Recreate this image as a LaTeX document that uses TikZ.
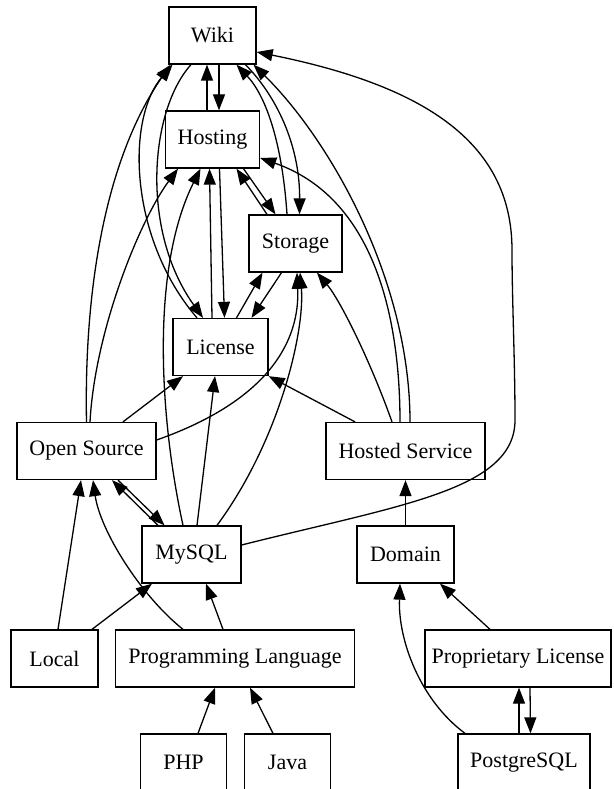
\documentclass[tikz,border=0pt]{standalone}
\usepackage{fontspec}
\setmainfont{Liberation Serif}
\usetikzlibrary{arrows.meta}
\begin{document}
\begin{tikzpicture}[x=1pt,y=-1pt,
  box/.style={draw, line width=1.3pt, minimum height=57pt, inner sep=0pt, font=\fontsize{22}{26}\selectfont},
  edge/.style={line width=1.3pt, -{Triangle[length=16pt,width=12pt]}}]
\useasboundingbox (0,0) rectangle (613,789);
% nodes
\node[box, minimum width=87pt] (Wiki) at (212.5,35.5) {Wiki};
\node[box, minimum width=94pt] (Hosting) at (212.5,139.5) {Hosting};
\node[box, minimum width=93pt] (Storage) at (295.5,243.5) {Storage};
\node[box, minimum width=95pt] (License) at (220.5,347) {License};
\node[box, minimum width=139pt] (OpenSource) at (86.5,451) {Open Source};
\node[box, minimum width=159pt] (HostedService) at (405.5,451) {Hosted Service};
\node[box, minimum width=99pt] (MySQL) at (191.5,554.5) {MySQL};
\node[box, minimum width=97pt] (Domain) at (405.5,554.5) {Domain};
\node[box, minimum width=87pt] (Local) at (54.5,658.5) {Local};
\node[box, minimum width=239pt] (ProgLang) at (235,658.5) {Programming Language};
\node[box, minimum width=186pt] (PropLic) at (518,658.5) {Proprietary License};
\node[box, minimum width=86pt] (PHP) at (183.5,762.5) {PHP};
\node[box, minimum width=86pt] (Java) at (287.5,762.5) {Java};
\node[box, minimum width=132pt] (PostgreSQL) at (524,762.5) {PostgreSQL};
% edges
\draw[edge] ([xshift=-5.5pt]Hosting.north) -- ([xshift=-5.5pt]Wiki.south);
\draw[edge] ([xshift=6.5pt]Wiki.south) -- ([xshift=6.5pt]Hosting.north);
\draw[edge] ([xshift=-21.5pt]Wiki.south) .. controls (150,110) and (140,230) .. ([xshift=-17.5pt]License.north);
\draw[edge] ([xshift=-23.5pt]License.north) .. controls (130,240) and (125,120) .. ([xshift=-40pt]Wiki.south);
\draw[edge] (OpenSource.north) .. controls (84,290) and (105,160) .. ([xshift=-42pt]Wiki.south);
\draw[edge] ([xshift=3.5pt]OpenSource.north) .. controls (95,330) and (140,220) .. ([xshift=-34.5pt]Hosting.south);
\draw[edge] ([xshift=36.5pt]OpenSource.north) -- ([xshift=-37.5pt]License.south);
\draw[edge] ([yshift=11pt]OpenSource.east) .. controls (270,400) and (300,340) .. ([xshift=1.5pt]Storage.south);
\draw[edge] ([xshift=-33.5pt]MySQL.north) -- ([xshift=25.5pt]OpenSource.south);
\draw[edge] ([xshift=31.5pt]OpenSource.south) -- ([xshift=-27pt]MySQL.north);
\draw[edge] ([xshift=3.5pt]Local.north) -- ([xshift=-5.5pt]OpenSource.south);
\draw[edge] ([xshift=-52pt]ProgLang.north) .. controls (140,595) and (100,530) .. ([xshift=6.5pt]OpenSource.south);
\draw[edge] ([xshift=37.5pt]Local.north) -- ([xshift=-39.5pt]MySQL.south);
\draw[edge] ([xshift=-12pt]ProgLang.north) -- ([xshift=14.5pt]MySQL.south);
\draw[edge] ([xshift=14.5pt]PHP.north) -- ([xshift=-20pt]ProgLang.south);
\draw[edge] ([xshift=-14.5pt]Java.north) -- ([xshift=15pt]ProgLang.south);
\draw[edge] ([xshift=-8.5pt]MySQL.north) .. controls (160,420) and (150,270) .. ([xshift=-12pt]Hosting.south);
\draw[edge] ([xshift=5.5pt]MySQL.north) -- ([xshift=-5.5pt]License.south);
\draw[edge] ([xshift=25.5pt]MySQL.north) .. controls (280,440) and (305,330) .. ([xshift=4.5pt]Storage.south);
\draw[edge] ([yshift=9.5pt]MySQL.east) .. controls (400,505) and (515,490) .. (515,420) .. controls (515,360) and (512,300) .. (512,250) .. controls (512,140) and (420,85) .. ([yshift=-16.5pt]Wiki.east);
\draw[edge] ([xshift=-8.5pt]Storage.north) .. controls (282,140) and (265,95) .. ([xshift=24pt]Wiki.south);
\draw[edge] ([xshift=33pt]Wiki.south) .. controls (280,100) and (300,150) .. ([xshift=4pt]Storage.north);
\draw[edge] ([xshift=4.5pt]HostedService.north) .. controls (410,280) and (330,140) .. ([xshift=41pt]Wiki.south);
\draw[edge] ([xshift=-5.5pt]HostedService.north) .. controls (400,330) and (380,200) .. ([yshift=-18.5pt]Hosting.east);
\draw[edge] ([xshift=-13.5pt]HostedService.north) .. controls (370,360) and (340,300) .. ([xshift=21.5pt]Storage.south);
\draw[edge] ([xshift=-50.5pt]HostedService.north) -- (License.south east);
\draw[edge] (Domain.north) -- (HostedService.south);
\draw[edge] ([xshift=-28pt]PropLic.north) -- ([xshift=34.5pt]Domain.south);
\draw[edge] ([xshift=-59pt]PostgreSQL.north) .. controls (420,700) and (398,640) .. ([xshift=-5.5pt]Domain.south);
\draw[edge] ([xshift=-5pt]PostgreSQL.north) -- ([xshift=1pt]PropLic.south);
\draw[edge] ([xshift=12pt]PropLic.south) -- ([xshift=6.5pt]PostgreSQL.north);
\draw[edge] ([xshift=-28.5pt]Storage.north) -- ([xshift=24pt]Hosting.south);
\draw[edge] ([xshift=31pt]Hosting.south) -- ([xshift=-20pt]Storage.north);
\draw[edge] ([xshift=-8.5pt]License.north) -- ([xshift=-3pt]Hosting.south);
\draw[edge] ([xshift=7pt]Hosting.south) -- ([xshift=4pt]License.north);
\draw[edge] ([xshift=16pt]License.north) -- ([xshift=-33pt]Storage.south);
\draw[edge] ([xshift=-14pt]Storage.south) -- ([xshift=31pt]License.north);
\end{tikzpicture}
\end{document}
